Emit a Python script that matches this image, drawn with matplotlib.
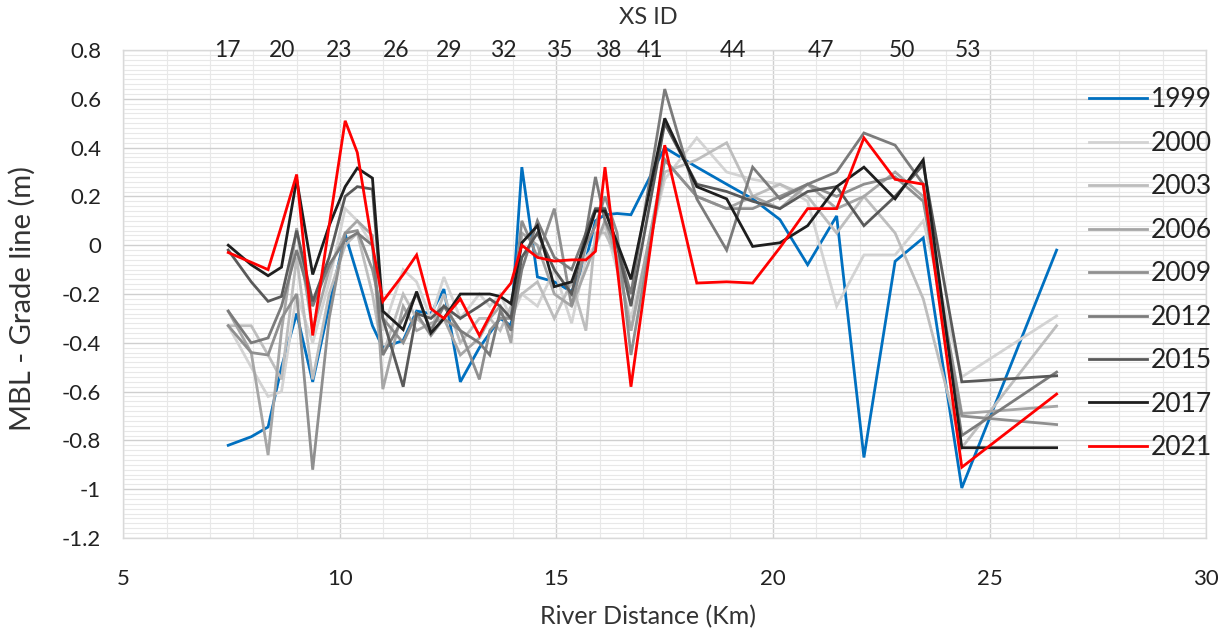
import matplotlib
matplotlib.use("Agg")
import matplotlib.pyplot as plt
from matplotlib.ticker import MultipleLocator, FuncFormatter

plt.rcParams['font.family'] = ['Lato', 'DejaVu Sans']

# River distance (km) of each cross-section
dist_km = [7.42, 7.95, 8.34, 8.65, 9.0, 9.37, 9.75, 10.12, 10.4, 10.75, 10.99, 11.46, 11.77,
           12.1, 12.4, 12.78, 13.22, 13.46, 13.7, 13.95, 14.2, 14.56, 14.95, 15.35, 15.68,
           15.9, 16.12, 16.4, 16.72, 17.5, 18.24, 18.93, 19.53, 20.16, 20.8, 21.47, 22.1,
           22.82, 23.47, 24.36, 26.55]

y1999 = [-0.82, -0.785, -0.745, -0.50, -0.28, -0.56, -0.25, 0.045, -0.12, -0.33, -0.42, -0.39, -0.27,
         -0.28, -0.18, -0.56, -0.42, -0.36, -0.30, -0.33, 0.32, -0.13, -0.15, -0.19, -0.06,
         0.10, 0.125, 0.13, 0.125, 0.40, 0.32, 0.25, 0.19, 0.105, -0.08, 0.12, -0.87,
         -0.066, 0.03, -0.995, -0.02]
y2000 = [-0.33, -0.50, -0.62, -0.60, -0.20, -0.40, -0.15, 0.15, 0.10, 0.00, -0.35, -0.10, -0.15,
         -0.30, -0.13, -0.30, -0.20, -0.25, -0.20, -0.30, -0.20, -0.25, -0.10, -0.32, -0.05,
         0.00, 0.08, -0.10, -0.30, 0.27, 0.44, 0.30, 0.27, 0.25, 0.18, -0.25, -0.04,
         -0.04, 0.10, -0.54, -0.29]
y2003 = [-0.33, -0.33, -0.45, -0.55, -0.05, -0.55, -0.20, 0.00, 0.05, -0.20, -0.45, -0.20, -0.30,
         -0.35, -0.20, -0.40, -0.30, -0.30, -0.35, -0.25, -0.20, -0.15, -0.30, -0.15, -0.35,
         0.05, 0.05, -0.05, -0.35, 0.30, 0.35, 0.42, 0.20, 0.25, 0.20, 0.05, 0.20,
         0.05, -0.22, -0.83, -0.33]
y2006 = [-0.27, -0.44, -0.86, -0.35, 0.07, -0.35, -0.10, 0.05, 0.10, 0.04, -0.59, -0.25, -0.35,
         -0.32, -0.30, -0.45, -0.38, -0.30, -0.25, -0.40, 0.05, 0.00, -0.20, -0.25, -0.10,
         0.00, 0.10, -0.05, -0.35, 0.35, 0.20, 0.15, 0.20, 0.15, 0.25, 0.15, 0.20,
         0.30, 0.20, -0.69, -0.66]
y2009 = [-0.33, -0.44, -0.45, -0.30, -0.20, -0.92, -0.30, 0.05, 0.06, -0.10, -0.30, -0.40, -0.28,
         -0.37, -0.30, -0.35, -0.55, -0.35, -0.30, -0.30, 0.10, -0.05, 0.15, -0.25, 0.00,
         0.08, 0.20, 0.05, -0.45, 0.35, 0.20, 0.15, 0.15, 0.20, 0.25, 0.20, 0.25,
         0.28, 0.18, -0.70, -0.735]
y2012 = [-0.27, -0.40, -0.38, -0.25, -0.02, -0.25, -0.08, 0.02, 0.05, 0.00, -0.45, -0.30, -0.20,
         -0.35, -0.25, -0.35, -0.40, -0.45, -0.27, -0.35, -0.10, 0.10, -0.05, -0.10, 0.05,
         0.28, 0.10, 0.00, -0.20, 0.64, 0.19, -0.02, 0.32, 0.19, 0.25, 0.30, 0.46,
         0.41, 0.25, -0.78, -0.52]
y2015 = [-0.02, -0.15, -0.23, -0.21, 0.06, -0.23, -0.05, 0.20, 0.24, 0.23, -0.30, -0.58, -0.28,
         -0.30, -0.25, -0.30, -0.25, -0.22, -0.25, -0.30, -0.05, 0.05, -0.10, -0.20, 0.05,
         0.15, 0.15, 0.00, -0.25, 0.50, 0.25, 0.22, 0.18, 0.15, 0.22, 0.24, 0.08,
         0.20, 0.33, -0.56, -0.535]
y2017 = [0.00, -0.08, -0.125, -0.09, 0.27, -0.12, 0.08, 0.24, 0.316, 0.275, -0.27, -0.346, -0.19,
         -0.36, -0.30, -0.20, -0.20, -0.20, -0.21, -0.24, 0.01, 0.08, -0.17, -0.15, 0.02,
         0.14, 0.14, 0.01, -0.14, 0.52, 0.24, 0.19, -0.005, 0.01, 0.08, 0.24, 0.32,
         0.19, 0.35, -0.83, -0.83]
y2021 = [-0.03, -0.07, -0.10, 0.08, 0.29, -0.37, 0.08, 0.51, 0.38, 0.00, -0.23, -0.12, -0.04,
         -0.26, -0.30, -0.22, -0.37, -0.29, -0.21, -0.155, 0.00, -0.05, -0.065, -0.06, -0.06,
         -0.025, 0.32, -0.09, -0.58, 0.41, -0.155, -0.15, -0.155, -0.01, 0.15, 0.15, 0.44,
         0.27, 0.25, -0.91, -0.61]

years = ["1999", "2000", "2003", "2006", "2009", "2012", "2015", "2017", "2021"]
series = [y1999, y2000, y2003, y2006, y2009, y2012, y2015, y2017, y2021]
colors = ["#0070c0", "#d3d3d3", "#bdbdbd", "#a6a6a6", "#8f8f8f", "#7b7b7b", "#595959", "#1e1e1e", "#ff0000"]

# XS ID labels on the top
xs_ids = ["17", "20", "23", "26", "29", "32", "35", "38", "41", "44", "47", "50", "53"]
xs_pos = [7.4, 8.67, 9.98, 11.3, 12.52, 13.78, 15.07, 16.2, 17.17, 19.08, 21.1, 22.97, 24.5]

fig = plt.figure(figsize=(12.26, 6.34), dpi=100)
ax = fig.add_axes([0.1007, 0.1514, 0.883, 0.7697])

for yr, ys, c in zip(years, series, colors):
    ax.plot(dist_km, ys, color=c, lw=2.0, label=yr, solid_joinstyle='miter')

ax.set_xlim(5, 30)
ax.set_ylim(-1.2, 0.8)
ax.xaxis.set_major_locator(MultipleLocator(5))
ax.xaxis.set_minor_locator(MultipleLocator(1))
ax.yaxis.set_major_locator(MultipleLocator(0.2))
ax.yaxis.set_minor_locator(MultipleLocator(0.02))
ax.grid(which='major', color='#cfcfcf', lw=1.0, zorder=0)
ax.grid(which='minor', color='#e8e8e8', lw=0.8, zorder=0)
ax.set_axisbelow(True)

def yfmt(v, pos):
    v = round(v, 1)
    if abs(v) < 1e-9:
        return "0"
    return "%g" % v
ax.yaxis.set_major_formatter(FuncFormatter(yfmt))
ax.tick_params(which='both', length=0, labelsize=16, colors='#222222')
ax.tick_params(axis='x', pad=22)
ax.tick_params(axis='y', pad=16)
for sp in ax.spines.values():
    sp.set_color('#d9d9d9')
    sp.set_linewidth(1.0)

ax.set_xlabel("River Distance (Km)", fontsize=18, color='#333333')
ax.xaxis.set_label_coords(0.4845, -0.138)
ax.set_ylabel("MBL - Grade line (m)", fontsize=21, color='#333333')
ax.yaxis.set_label_coords(-0.081, 0.49)

for lab, p in zip(xs_ids, xs_pos):
    ax.text(p, 0.8, lab, ha='center', va='center', fontsize=16.5, color='#222222')
fig.text(0.5285, 0.972, "XS ID", ha='center', va='center', fontsize=17, color='#333333')

leg = ax.legend(loc='upper left', bbox_to_anchor=(0.882, 0.945), frameon=False,
                fontsize=19, handlelength=2.2, handletextpad=0.15, labelspacing=0.70,
                borderaxespad=0)
for t in leg.get_texts():
    t.set_color('#222222')

fig.savefig("out.png", dpi=100)
